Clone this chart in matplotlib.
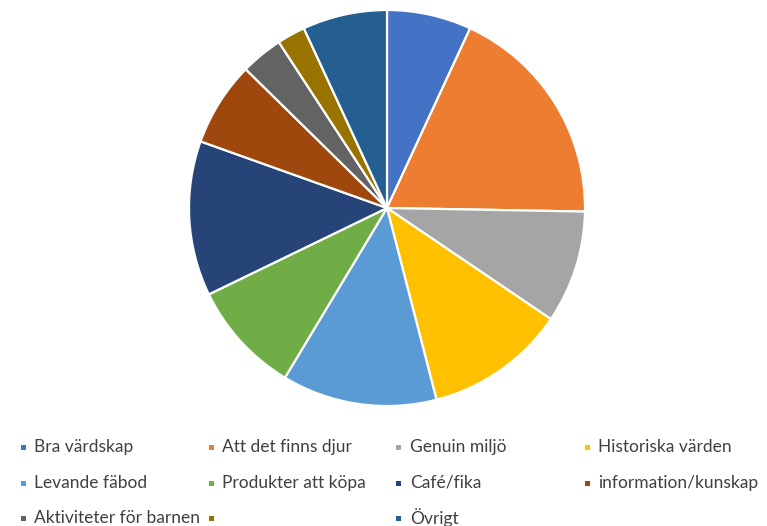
import matplotlib
matplotlib.use("Agg")
import matplotlib.pyplot as plt
from matplotlib.patches import Rectangle

categories = ["Bra värdskap", "Att det finns djur", "Genuin miljö", "Historiska värden",
              "Levande fäbod", "Produkter att köpa", "Café/fika", "information/kunskap",
              "Aktiviteter för barnen", "", "Övrigt"]
values = [6, 16, 8, 10, 11, 8, 11, 6, 3, 2, 6]
colors = ["#4472C4", "#ED7D31", "#A5A5A5", "#FFC000", "#5B9BD5", "#70AD47",
          "#264478", "#9E480E", "#636363", "#997300", "#255E91"]

W, H = 767, 526
fig = plt.figure(figsize=(W / 100, H / 100), dpi=100)
cx, cy, r = 387, 208, 198
ax = fig.add_axes([(cx - r) / W, 1 - (cy + r) / H, 2 * r / W, 2 * r / H])
ax.pie(values, colors=colors, startangle=90, counterclock=False, radius=1,
       wedgeprops=dict(edgecolor="white", linewidth=1.6))
ax.set_xlim(-1.0, 1.0)
ax.set_ylim(-1.0, 1.0)
ax.set_aspect("auto")
ax.axis("off")

col_x = [23, 211, 399, 587]
row_y = [447, 483, 518]
for i, (lab, col) in enumerate(zip(categories, colors)):
    rr, cc = divmod(i, 4)
    x, y = col_x[cc], row_y[rr]
    fig.patches.append(Rectangle(((x - 2.5) / W, 1 - (y + 2.5) / H), 5 / W, 5 / H,
                                 transform=fig.transFigure, facecolor=col,
                                 edgecolor="none"))
    if lab:
        fig.text((x + 11) / W, 1 - y / H, lab, ha="left", va="center",
                 fontsize=12.5, family="Lato", color="#404040")

fig.savefig("out.png", dpi=100)
